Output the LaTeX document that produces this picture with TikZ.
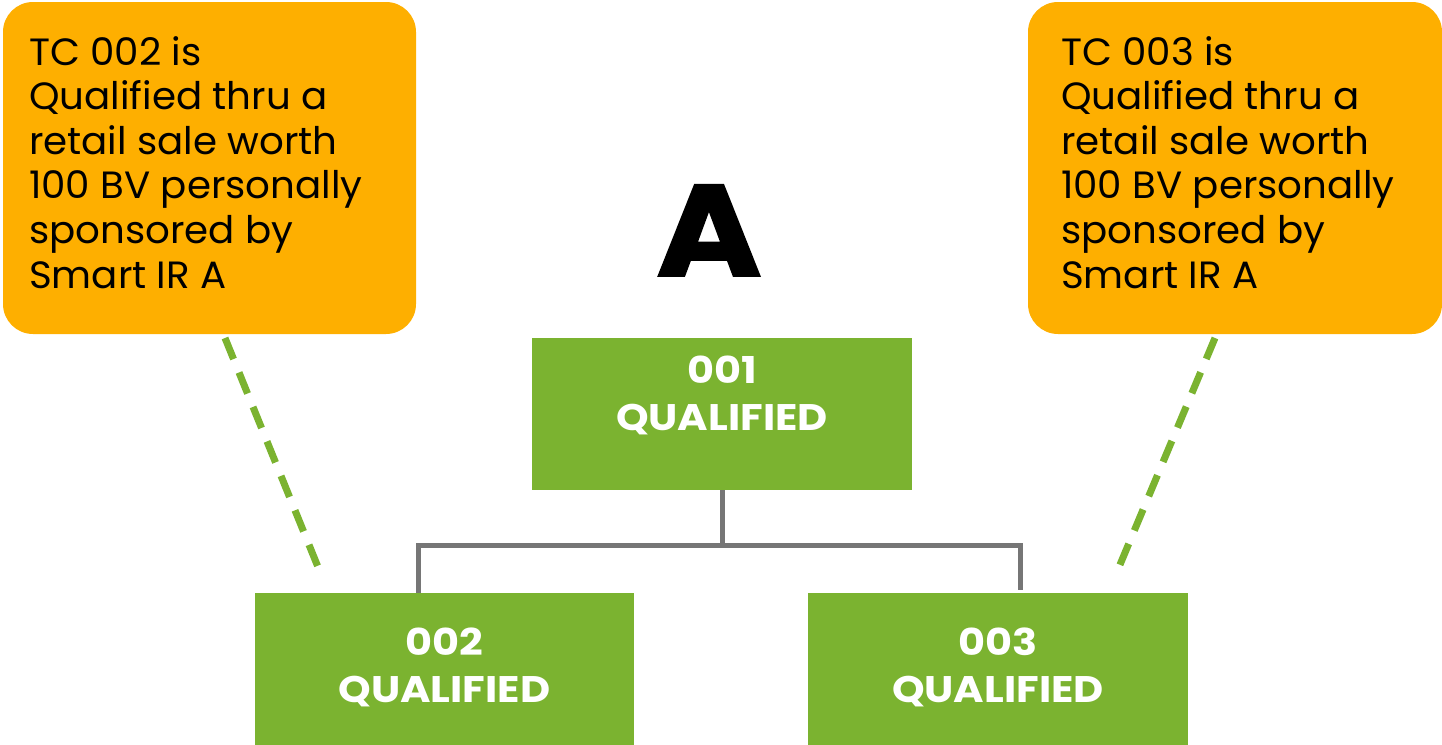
\documentclass[tikz,border=0pt]{standalone}
\usepackage{fontspec}
\setmainfont{Poppins}[FakeStretch=1.02]
\newfontfamily\greenfont{Poppins}[BoldFeatures={FakeStretch=1.12}]
\newfontfamily\heavyfont{Poppins}[BoldFeatures={FakeStretch=1.1,FakeBold=1.5}]
\definecolor{calloutorange}{RGB}{254,175,0}
\definecolor{boxgreen}{RGB}{123,179,48}
\definecolor{conngrey}{RGB}{118,118,118}
\begin{document}
\begin{tikzpicture}[x=1pt,y=-1pt,
  callout/.style={fill=calloutorange,rounded corners=30pt,inner sep=0pt,draw=none},
  calltext/.style={anchor=base west,inner sep=0pt,align=left,font=\fontsize{38}{44.6}\selectfont,text=black},
  greenbox/.style={fill=boxgreen,inner sep=0pt,draw=none,minimum width=379.5pt},
  greentext/.style={anchor=base,inner sep=0pt,text=white,font=\greenfont\fontsize{37}{47}\selectfont\bfseries},
  conn/.style={draw=conngrey,line width=5pt},
  dashconn/.style={draw=boxgreen,line width=7pt,dash pattern=on 22.7pt off 14.5pt}
]
\useasboundingbox (0,0) rectangle (1442,744);
% callouts
\node[callout,minimum width=413pt,minimum height=332pt] (c2) at (209.5,168) {};
\node[callout,minimum width=414pt,minimum height=332pt] (c3) at (1235,168) {};
\node[calltext] (c2t) at (29,288) {TC 002 is\\Qualified thru a\\retail sale worth\\100 BV personally\\sponsored by\\Smart IR A};
\node[calltext] (c3t) at (1061,288) {TC 003 is\\Qualified thru a\\retail sale worth\\100 BV personally\\sponsored by\\Smart IR A};
% big letter
\node[anchor=base,inner sep=0pt,font=\heavyfont\fontsize{130}{130}\selectfont\bfseries] (bigA) at (709,276) {A};
% green boxes
\node[greenbox,minimum height=152pt] (n001) at (722,414) {};
\node[greenbox,minimum height=160pt] (n002) at (444.5,673) {};
\node[greenbox,minimum height=160pt] (n003) at (998,673) {};
\node[greentext] (t001a) at (722,383) {001};
\node[greentext] (t001b) at (722,430) {QUALIFIED};
\node[greentext] (t002a) at (444.5,655) {002};
\node[greentext] (t002b) at (444.5,702) {QUALIFIED};
\node[greentext] (t003a) at (998,655) {003};
\node[greentext] (t003b) at (998,702) {QUALIFIED};
% connectors
\coordinate (hL) at (418,545);
\coordinate (hR) at (1020,545);
\draw[conn] (n001.south) -- (n001.south |- hL);
\draw[conn] (n002.north -| hL) -- (hL) -- (hR) -- ([yshift=3pt]n003.north -| hR);
% dashed
\coordinate (d2a) at (225,338);
\coordinate (d2b) at (318,567);
\coordinate (d3a) at (1215,338);
\coordinate (d3b) at (1119,567);
\draw[dashconn] (d2a) -- (d2b);
\draw[dashconn] (d3a) -- (d3b);
\end{tikzpicture}
\end{document}
